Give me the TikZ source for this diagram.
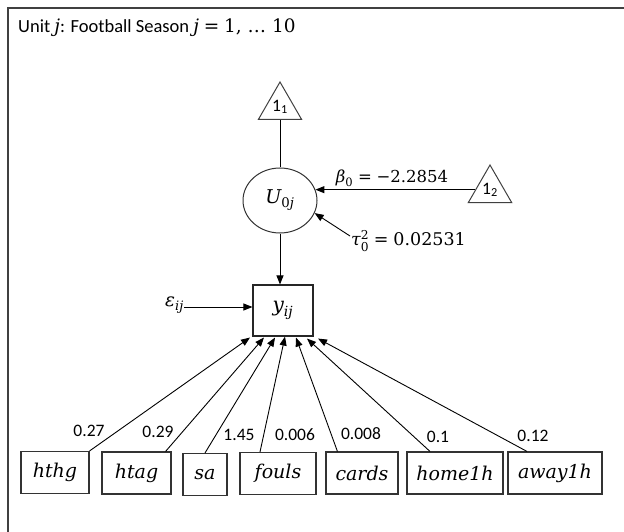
\documentclass[tikz,border=0pt]{standalone}
\usepackage{amsmath}
\usepackage[no-math]{fontspec}
\setmainfont{Carlito}
\newfontfamily\mfam{DejaVu Serif}
\newcommand{\V}[1]{\text{\mfam\itshape #1}}
\newcommand{\R}[1]{\text{\mfam #1}}
\newcommand{\Eq}{\mathrel{\text{\mfam =}}}
\usetikzlibrary{arrows.meta,shapes.geometric}
\begin{document}
\begin{tikzpicture}[x=1pt,y=-1pt,
  arr/.style={-{Triangle[length=9pt,width=7pt]}, line width=0.9pt},
  link/.style={line width=0.9pt},
  varbox/.style={draw=black!80, line width=1.1pt, minimum height=42pt, inner sep=0pt, font=\fontsize{19}{22}\selectfont},
  coef/.style={font=\fontsize{17.5}{20}\selectfont, inner sep=0pt},
  tri/.style={regular polygon, regular polygon sides=3, draw=black!75, line width=1pt, minimum size=50pt, inner sep=0pt, font=\fontsize{17.5}{19}\selectfont},
  mlabel/.style={font=\fontsize{16.5}{20}\selectfont, inner sep=0pt}]
\useasboundingbox (0,0) rectangle (624,532);
\draw[line width=1.5pt, black!75] (8,532) -- (8,8) -- (624,8);
\node[anchor=west, font=\fontsize{18.5}{22}\selectfont, inner sep=0pt] (title) at (18,28) {Unit $\V{j}$: Football Season $\V{j} \Eq \R{1, … 10}$};
% triangles and latent
\node[tri] (t1) at (280,107) {1\textsubscript{1}};
\node[tri] (t2) at (490,190) {1\textsubscript{2}};
\node[draw=black!80, line width=1pt, ellipse, minimum width=74pt, minimum height=65pt, inner sep=0pt, font=\fontsize{19}{22}\selectfont] (u) at (280,200.5) {$\V{U}_{\R{0}\V{j}}$};
\node[draw=black!85, line width=1.1pt, minimum width=60pt, minimum height=51pt, inner sep=0pt, font=\fontsize{20}{23}\selectfont] (yij) at (283,310.5) {$\V{y}_{\V{ij}}$};
\draw[link] (t1.south) -- (u.north);
\draw[arr] (t2.west |- u.17.5) -- (u.17.5);
\node[mlabel] (beta) at (392,178) {$\V{β}_{\R{0}} \Eq \R{−2.2854}$};
\node[mlabel, anchor=west, font=\fontsize{17.5}{20}\selectfont] (tau) at (351,241) {$\V{τ}_{\R{0}}^{\R{2}} \Eq \R{0.02531}$};
\coordinate (ts) at (350,236);
\draw[arr] (ts) -- (u.-20);
\draw[arr] (u.south) -- (u.south |- yij.north);
\node[mlabel, anchor=east, font=\fontsize{18.5}{21}\selectfont] (eps) at (184,305) {$\V{ε}_{\V{ij}}$};
\draw[arr] (eps.east |- 0,307) -- (eps.east |- 0,307 -| yij.west);
% observed variables
\node[varbox, minimum width=68pt] (b1) at (55,472.5) {\V{hthg}};
\node[varbox, minimum width=69pt] (b2) at (136.5,473) {\V{htag}};
\node[varbox, minimum width=44pt] (b3) at (205,474.5) {\V{sa}};
\node[varbox, minimum width=76pt] (b4) at (278,473.5) {\V{fouls}};
\node[varbox, minimum width=72pt] (b5) at (362,473) {\V{cards}};
\node[varbox, minimum width=96pt] (b6) at (455,473) {\V{home1h}};
\node[varbox, minimum width=94pt] (b7) at (555,473) {\V{away1h}};
\draw[arr] (b1.north east) -- ([shift={(-33,1)}]yij.south);
\draw[arr] ([xshift=-6pt]b2.north east) -- ([shift={(-19,1)}]yij.south);
\draw[arr] (b3.north) -- ([shift={(-8,1)}]yij.south);
\draw[arr] ([xshift=-18pt]b4.north) -- ([shift={(2,0)}]yij.south);
\draw[arr] ([xshift=12pt]b5.north west) -- ([shift={(13,1)}]yij.south);
\draw[arr] ([xshift=-25pt]b6.north) -- ([shift={(24,2)}]yij.south);
\draw[arr] ([xshift=-28pt]b7.north) -- ([shift={(35,2)}]yij.south);
% coefficients
\node[coef] (c1) at (89,431) {0.27};
\node[coef] (c2) at (158,432) {0.29};
\node[coef] (c3) at (239,435) {1.45};
\node[coef] (c4) at (295,435) {0.006};
\node[coef] (c5) at (361,434) {0.008};
\node[coef] (c6) at (438,437) {0.1};
\node[coef] (c7) at (533,436) {0.12};
\end{tikzpicture}
\end{document}
